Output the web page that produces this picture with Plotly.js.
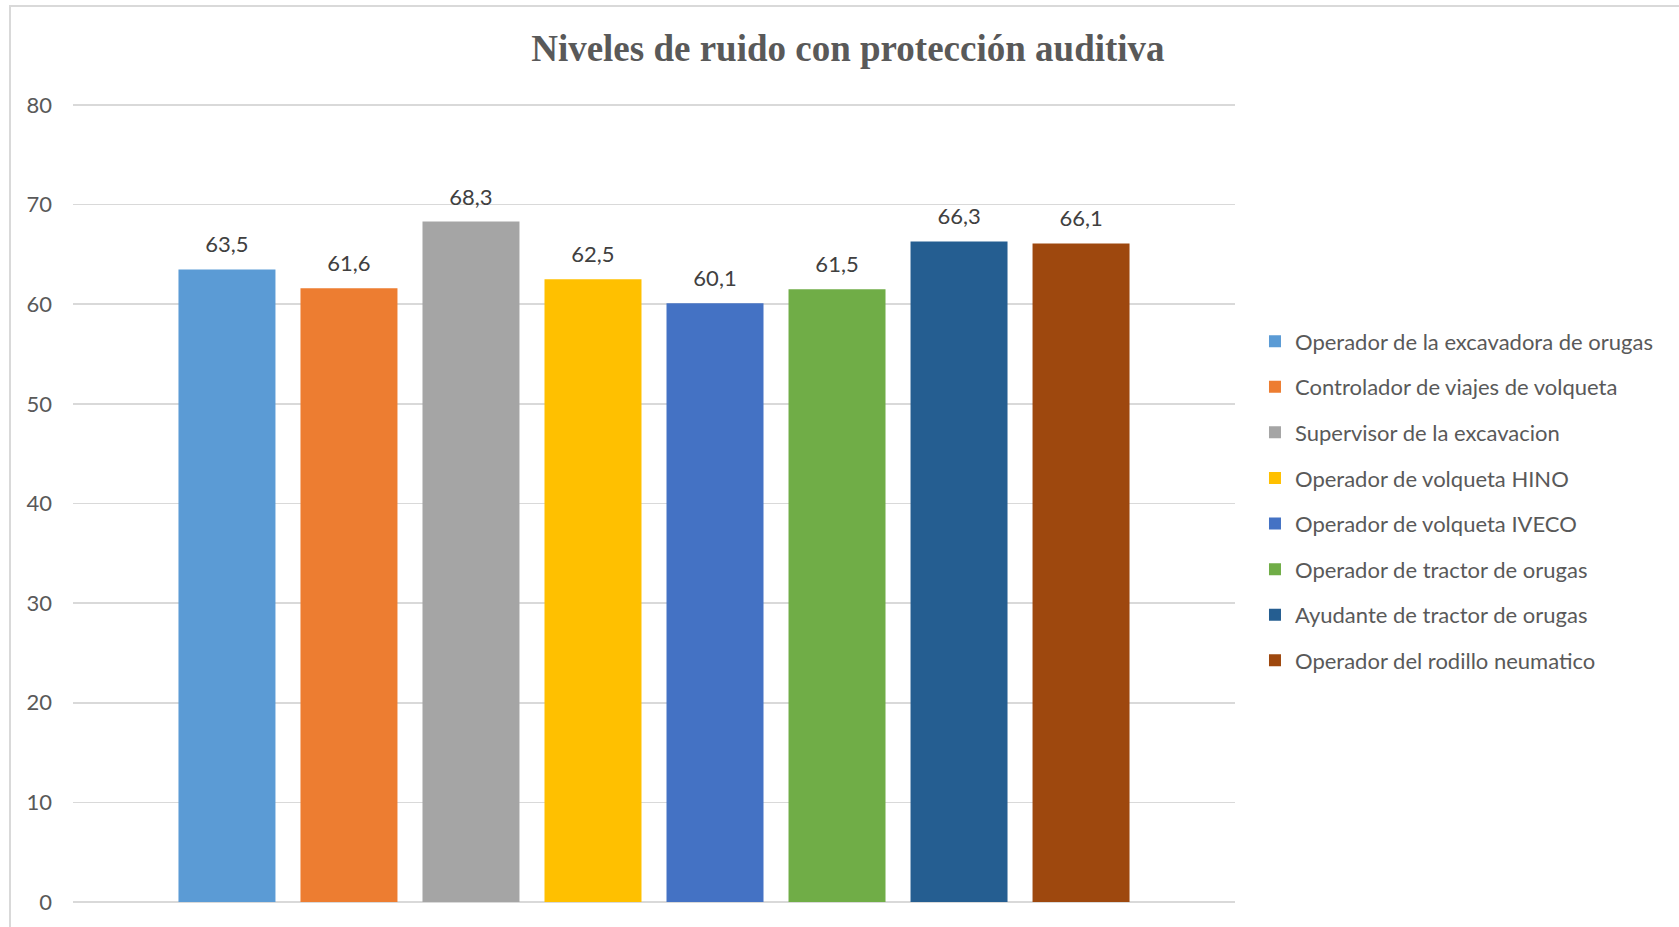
<!DOCTYPE html>
<html>
<head>
<meta charset="utf-8">
<script src="https://cdn.plot.ly/plotly-3.0.1.min.js"></script>
<style>
  html, body { margin: 0; padding: 0; background: #fff; }
  #chart { width: 1679px; height: 927px; position: absolute; left: 0; top: 0; }
  #frame { position: absolute; left: 9px; top: 5px; width: 1680px; height: 930px;
           border-left: 2px solid #d9d9d9; border-top: 2px solid #d9d9d9; pointer-events: none; }
</style>
</head>
<body>
<div id="chart"></div>
<div id="frame"></div>
<script>
const categoryLabel = [''];
const seriesNames = [
  'Operador de la excavadora de orugas',
  'Controlador de viajes de volqueta',
  'Supervisor de la excavacion',
  'Operador de volqueta HINO',
  'Operador de volqueta IVECO',
  'Operador de tractor de orugas',
  'Ayudante de tractor de orugas',
  'Operador del rodillo neumatico'
];
const seriesValues = [63.5, 61.6, 68.3, 62.5, 60.1, 61.5, 66.3, 66.1];
const seriesColors = ['#5B9BD5', '#ED7D31', '#A5A5A5', '#FFC000', '#4472C4', '#70AD47', '#255E91', '#9E480E'];
const yTicks = [0, 10, 20, 30, 40, 50, 60, 70, 80];

const traces = seriesNames.map((name, i) => ({
  type: 'bar',
  name: name,
  legendgroup: 'g' + i,
  x: categoryLabel,
  y: [seriesValues[i]],
  marker: { color: seriesColors[i] },
  texttemplate: '\u00a0<span style="font-size:22px">%{y:.1f}</span>\u00a0',
  textposition: 'outside',
  cliponaxis: false,
  constraintext: 'none',
  textfont: { family: 'Lato', size: 64, color: '#404040' },
  hoverinfo: 'skip'
}));

const layout = {
  width: 1679,
  height: 927,
  separators: ',.',
  paper_bgcolor: '#ffffff',
  plot_bgcolor: '#ffffff',
  margin: { l: 73, r: 444, t: 103, b: 25 },
  barmode: 'group',
  bargap: 0.16,
  bargroupgap: 0.205,
  title: {
    text: 'Niveles de ruido con protección auditiva',
    font: { family: 'Liberation Serif', size: 37, color: '#595959', weight: 'bold' },
    xref: 'container', yref: 'container',
    x: 0.505, xanchor: 'center',
    y: 0.948, yanchor: 'middle'
  },
  xaxis: {
    showticklabels: false,
    showgrid: false,
    zeroline: false,
    showline: false,
    ticks: ''
  },
  yaxis: {
    range: [0, 80.2],
    tickvals: yTicks,
    ticktext: yTicks.map(String),
    showgrid: true,
    gridcolor: '#d9d9d9',
    gridwidth: 1.5,
    zeroline: true,
    zerolinecolor: '#d9d9d9',
    zerolinewidth: 1.5,
    showline: false,
    ticks: '',
    ticklabelstandoff: 20,
    tickfont: { family: 'Lato', size: 22, color: '#595959' }
  },
  showlegend: true,
  legend: {
    x: 1.0172, xanchor: 'left',
    y: 0.728, yanchor: 'top',
    tracegroupgap: 14,
    font: { family: 'Lato', size: 22, color: '#595959' },
    bgcolor: 'rgba(0,0,0,0)'
  }
};

Plotly.newPlot('chart', traces, layout, { displayModeBar: false, staticPlot: true });
</script>
</body>
</html>
